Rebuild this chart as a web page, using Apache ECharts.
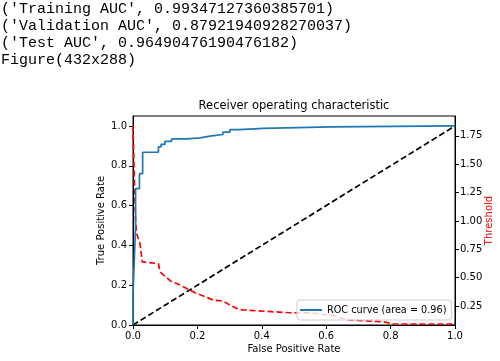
<!DOCTYPE html>
<html>
<head>
<meta charset="utf-8">
<script src="https://cdn.jsdelivr.net/npm/echarts@6/dist/echarts.min.js"></script>
<style>html,body{margin:0;padding:0;background:#fff}#c{width:500px;height:361px}</style>
</head>
<body>
<div id="c"></div>
<script>
// ---- data ----
var headerLines = [
  "('Training AUC', 0.99347127360385701)",
  "('Validation AUC', 0.87921940928270037)",
  "('Test AUC', 0.96490476190476182)",
  "Figure(432x288)"
];
var chartTitle = 'Receiver operating characteristic';
var rocFpr = [0,0,0.008,0.008,0.02,0.02,0.03,0.03,0.079,0.079,0.087,0.087,0.099,0.099,0.12,0.12,0.167,0.167,0.208,0.208,0.239,0.239,0.279,0.279,0.301,0.301,0.33,0.33,0.404,0.404,0.617,0.617,1];
var rocTpr = [0,0.15,0.5,0.685,0.685,0.76,0.76,0.868,0.868,0.895,0.895,0.907,0.907,0.923,0.923,0.935,0.935,0.94,0.94,0.949,0.949,0.957,0.957,0.969,0.969,0.982,0.982,0.988,0.988,0.995,0.995,1.0,1.0];
var thrFpr = [0,0.003,0.008,0.0114,0.0217,0.029,0.079,0.084,0.12,0.136,0.167,0.198,0.224,0.249,0.28,0.301,0.327,0.343,0.488,0.55,0.622,0.674,0.777,0.808,1.0];
var thrVal = [1.84,1.5,1.0,0.888,0.80,0.639,0.624,0.551,0.463,0.449,0.405,0.361,0.332,0.303,0.294,0.259,0.221,0.215,0.191,0.19,0.165,0.127,0.112,0.092,0.092];
var diagX = [0,1];
var diagY = [0,1];
var xTicks = [0,0.2,0.4,0.6,0.8,1.0];
var yTicks = [0,0.2,0.4,0.6,0.8,1.0];
var thrTicks = [0.25,0.5,0.75,1.0,1.25,1.5,1.75];
var rocLabel = 'ROC curve (area = 0.96)';

function zip(a,b){return a.map(function(v,i){return [v,b[i]];});}

var chart = echarts.init(document.getElementById('c'), null, {renderer:'canvas'});
var F = 'DejaVu Sans';
var tickStyle = {color:'#000', fontFamily:F, fontSize:10};
var graphics = headerLines.map(function(t,i){
  return {type:'text', left:1, top:2+i*16.8, style:{text:t, fill:'#000', font:'15px "Liberation Mono"'}};
});
graphics.push({type:'text', x:294, y:100, style:{text:chartTitle, fill:'#000', font:'11.5px "DejaVu Sans"', textAlign:'center'}});

chart.setOption({
  backgroundColor:'#fff',
  animation:false,
  graphic: graphics,
  grid:{left:133, top:116, width:322, height:209, show:true, borderColor:'#000', borderWidth:1, backgroundColor:'transparent', containLabel:false, outerBoundsMode:'none'},
  legend:{
    data:[{name:rocLabel, icon:'rect'}],
    left:297, top:300, itemWidth:22, itemHeight:2,
    backgroundColor:'rgba(255,255,255,0.8)', borderColor:'#ccc', borderWidth:1, borderRadius:3,
    padding:[5,5,5,3],
    textStyle:{color:'#000', fontFamily:F, fontSize:9.7}
  },
  xAxis:{
    type:'value', min:0, max:1,
    name:'False Positive Rate', nameLocation:'middle', nameGap:19, nameMoveOverlap:false,
    nameTextStyle:{color:'#000', fontFamily:F, fontSize:10},
    axisLine:{show:true, lineStyle:{color:'#000'}},
    axisTick:{show:true, length:4, customValues:xTicks, lineStyle:{color:'#000'}},
    axisLabel:Object.assign({margin:6, customValues:xTicks, formatter:function(v){return v.toFixed(1);}}, tickStyle),
    splitLine:{show:false}
  },
  yAxis:[{
    type:'value', min:0, max:1.05, position:'left',
    name:'True Positive Rate', nameLocation:'middle', nameGap:27, nameRotate:90, nameMoveOverlap:false,
    nameTextStyle:{color:'#000', fontFamily:F, fontSize:10},
    axisLine:{show:true, lineStyle:{color:'#000'}},
    axisTick:{show:true, length:4, customValues:yTicks, lineStyle:{color:'#000'}},
    axisLabel:Object.assign({margin:6, customValues:yTicks, formatter:function(v){return v.toFixed(1);}}, tickStyle),
    splitLine:{show:false}
  },{
    type:'value', min:0.083, max:1.925, position:'right',
    name:'Threshold', nameLocation:'middle', nameGap:29, nameRotate:90, nameMoveOverlap:false,
    nameTextStyle:{color:'#ff0000', fontFamily:F, fontSize:10},
    axisLine:{show:true, lineStyle:{color:'#000'}},
    axisTick:{show:true, length:4, customValues:thrTicks, lineStyle:{color:'#000'}},
    axisLabel:Object.assign({margin:5, customValues:thrTicks, formatter:function(v){return v.toFixed(2);}}, tickStyle),
    splitLine:{show:false}
  }],
  series:[{
    name:rocLabel, type:'line', data:zip(rocFpr,rocTpr), symbol:'none',
    lineStyle:{color:'#1f77b4', width:1.7}, itemStyle:{color:'#1f77b4'}, z:3
  },{
    name:'diag', type:'line', data:zip(diagX,diagY), symbol:'none',
    lineStyle:{color:'#000', width:1.7, type:[6,3]}, z:2
  },{
    name:'threshold', type:'line', yAxisIndex:1, data:zip(thrFpr,thrVal), symbol:'none',
    lineStyle:{color:'#ff0000', width:1.7, type:[6,3]}, z:2
  }]
});
</script>
</body>
</html>
